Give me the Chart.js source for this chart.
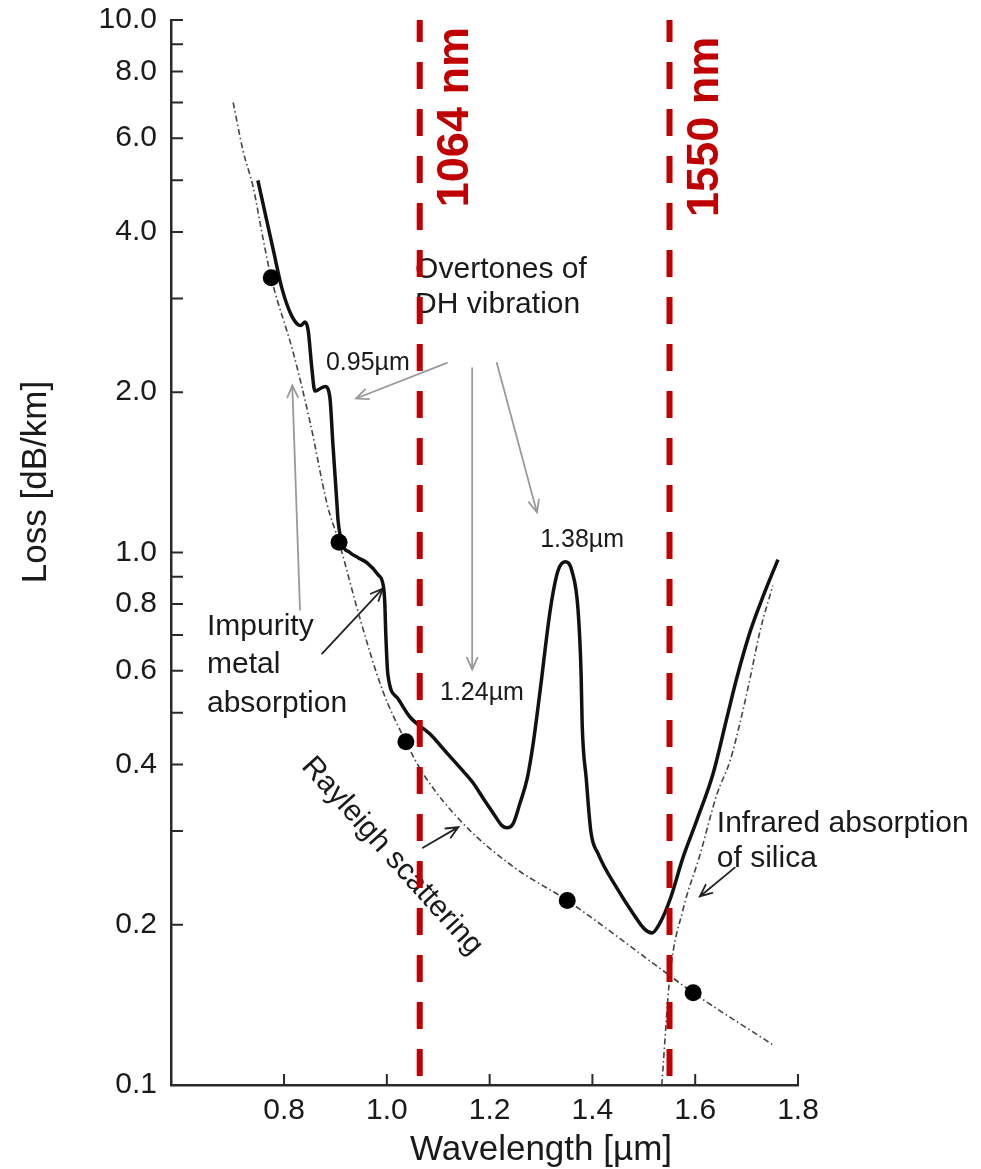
<!DOCTYPE html>
<html><head><meta charset="utf-8">
<script src="https://cdn.jsdelivr.net/npm/chart.js@4.4.1/dist/chart.umd.min.js"></script>
<style>html,body{margin:0;padding:0;background:#fff;}canvas{display:block;}</style>
</head><body>
<canvas id="chart" width="981" height="1169"></canvas>
<script>
// ---------- data ----------
const lossWavelength = [0.749,0.779,0.796,0.812,0.825,0.833,0.841,0.847,0.854,0.860,0.870,0.880,0.889,0.895,0.903,0.905,0.913,0.928,0.944,0.961,0.983,0.993,0.996,0.998,1.002,1.020,1.045,1.084,1.117,1.148,1.168,1.187,1.207,1.224,1.234,1.246,1.259,1.273,1.284,1.298,1.318,1.333,1.347,1.360,1.372,1.378,1.380,1.388,1.397,1.411,1.448,1.479,1.502,1.516,1.532,1.551,1.576,1.603,1.635,1.662,1.681,1.707,1.732,1.761];
const lossValues = [5.0,3.70,3.13,2.82,2.69,2.67,2.71,2.61,2.22,2.01,2.03,2.05,1.96,1.60,1.23,1.15,1.04,1.00,0.978,0.957,0.908,0.867,0.804,0.70,0.590,0.534,0.491,0.456,0.420,0.389,0.369,0.346,0.324,0.307,0.304,0.310,0.338,0.376,0.433,0.548,0.781,0.924,0.961,0.924,0.781,0.590,0.478,0.376,0.299,0.272,0.234,0.210,0.196,0.193,0.202,0.223,0.267,0.314,0.385,0.491,0.582,0.711,0.827,0.970];
const rayleighWavelength = [0.701,0.720,0.740,0.759,0.775,0.818,0.851,0.884,0.907,0.948,0.991,1.037,1.070,1.148,1.246,1.351,1.541,1.596,1.751];
const rayleighValues = [7.0,5.69,4.85,3.89,3.28,2.37,1.75,1.23,1.045,0.750,0.553,0.441,0.385,0.310,0.257,0.222,0.163,0.149,0.119];
const infraredWavelength = [1.535,1.551,1.576,1.609,1.642,1.668,1.687,1.707,1.726,1.751];
const infraredValues = [0.1,0.161,0.213,0.270,0.351,0.407,0.478,0.582,0.711,0.867];
const markerWavelength = [0.775,0.907,1.037,1.351,1.596];
const markerValues = [3.28,1.045,0.441,0.222,0.149];
const laserWavelengths = [1.064,1.55];
const laserLabels = ['1064 nm','1550 nm'];
const xTickValues = [0.8,1.0,1.2,1.4,1.6,1.8];
const xTickLabels = ['0.8','1.0','1.2','1.4','1.6','1.8'];
const yTickValues = [0.1,0.2,0.3,0.4,0.5,0.6,0.7,0.8,0.9,1,2,3,4,5,6,7,8,9,10];
const yTickLabels = ['0.1','0.2','','0.4','','0.6','','0.8','','1.0','2.0','','4.0','','6.0','','8.0','','10.0'];
const xAxisTitle = 'Wavelength [µm]';
const yAxisTitle = 'Loss [dB/km]';

// ---------- presentation ----------
const FONT = '"Liberation Sans", Arial, Helvetica, sans-serif';
const RED = '#c00000';
const pts = (xs, ys) => xs.map((x, i) => ({x, y: ys[i]}));

const annotationTexts = [
  {lines:['Overtones of','DH vibration'], x:1.055, y:3.40, size:30, align:'left', gap:35},
  {lines:['0.95µm'], x:0.963, y:2.27, size:25, align:'center'},
  {lines:['1.38µm'], x:1.380, y:1.056, size:25, align:'center'},
  {lines:['1.24µm'], x:1.185, y:0.545, size:25, align:'center'},
  {lines:['Impurity','metal','absorption'], x:0.650, y:0.726, size:30, align:'left', gap:38.5},
  {lines:['Rayleigh scattering'], x:1.010, y:0.269, size:30, align:'center', rotate:48},
  {lines:['Infrared absorption','of silica'], x:1.642, y:0.31, size:30, align:'left', gap:35}
];
const laserLabelPos = [{y:6.57, dx:36}, {y:6.30, dx:36}];
const grayArrows = [
  {from:[1.117,2.27], to:[0.940,1.946]},
  {from:[1.166,2.22], to:[1.166,0.603]},
  {from:[1.214,2.27], to:[1.292,1.19]},
  {from:[0.831,0.781], to:[0.816,2.06]}
];
const blackArrows = [
  {from:[0.874,0.646], to:[0.992,0.855]},
  {from:[1.070,0.279], to:[1.139,0.305]},
  {from:[1.677,0.256], to:[1.609,0.226]}
];

function drawArrow(ctx, a, xs, ys, color, width) {
  const x1 = xs.getPixelForValue(a.from[0]), y1 = ys.getPixelForValue(a.from[1]);
  const x2 = xs.getPixelForValue(a.to[0]), y2 = ys.getPixelForValue(a.to[1]);
  const ang = Math.atan2(y2 - y1, x2 - x1), L = 13, sp = 0.42;
  ctx.save();
  ctx.strokeStyle = color; ctx.lineWidth = width; ctx.lineCap = 'round';
  ctx.beginPath();
  ctx.moveTo(x1, y1); ctx.lineTo(x2, y2);
  ctx.moveTo(x2 - L * Math.cos(ang - sp), y2 - L * Math.sin(ang - sp));
  ctx.lineTo(x2, y2);
  ctx.lineTo(x2 - L * Math.cos(ang + sp), y2 - L * Math.sin(ang + sp));
  ctx.stroke();
  ctx.restore();
}

const overlay = {
  id: 'overlay',
  beforeDatasetsDraw(chart) {
    const ctx = chart.ctx, xs = chart.scales.x, ys = chart.scales.y;
    annotationTexts.forEach(t => {
      ctx.save();
      ctx.translate(xs.getPixelForValue(t.x), ys.getPixelForValue(t.y));
      if (t.rotate) ctx.rotate(t.rotate * Math.PI / 180);
      ctx.font = `${t.size}px ${FONT}`;
      ctx.fillStyle = '#1a1a1a';
      ctx.textAlign = t.align; ctx.textBaseline = 'middle';
      t.lines.forEach((s, i) => ctx.fillText(s, 0, i * (t.gap || 0)));
      ctx.restore();
    });
    grayArrows.forEach(a => drawArrow(ctx, a, xs, ys, '#9a9a9a', 1.8));
    blackArrows.forEach(a => drawArrow(ctx, a, xs, ys, '#222', 1.8));
  },
  afterDraw(chart) {
    const ctx = chart.ctx, xs = chart.scales.x, ys = chart.scales.y, ca = chart.chartArea;
    ctx.save();
    ctx.strokeStyle = '#2a2a2a'; ctx.lineWidth = 2;
    ctx.beginPath();
    ys.ticks.forEach(t => { const y = ys.getPixelForValue(t.value); ctx.moveTo(ca.left, y); ctx.lineTo(ca.left + 12, y); });
    xs.ticks.forEach(t => { const x = xs.getPixelForValue(t.value); ctx.moveTo(x, ca.bottom); ctx.lineTo(x, ca.bottom - 11); });
    ctx.stroke();
    // laser wavelength labels
    laserWavelengths.forEach((w, i) => {
      ctx.save();
      ctx.translate(xs.getPixelForValue(w) + laserLabelPos[i].dx, ys.getPixelForValue(laserLabelPos[i].y));
      ctx.rotate(-Math.PI / 2);
      ctx.font = `bold 45px ${FONT}`;
      ctx.fillStyle = RED; ctx.textAlign = 'center'; ctx.textBaseline = 'middle';
      ctx.fillText(laserLabels[i], 0, 0);
      ctx.restore();
    });
    // axis titles
    ctx.font = `35px ${FONT}`; ctx.fillStyle = '#1a1a1a';
    ctx.textAlign = 'center'; ctx.textBaseline = 'middle';
    ctx.fillText(xAxisTitle, 541, 1150);
    ctx.translate(36, 482); ctx.rotate(-Math.PI / 2);
    ctx.fillText(yAxisTitle, 0, 0);
    ctx.restore();
  }
};

const laserSets = laserWavelengths.map((w, i) => ({
  label: laserLabels[i],
  data: [{x: w, y: 10}, {x: w, y: 0.1}],
  showLine: true, borderColor: RED, borderWidth: 6,
  borderDash: [27, 20], borderDashOffset: 5, pointRadius: 0, borderCapStyle: 'butt'
}));

new Chart(document.getElementById('chart'), {
  type: 'scatter',
  data: {
    datasets: [
      ...laserSets,
      {label: 'Measured points', data: pts(markerWavelength, markerValues), pointRadius: 8.5,
       backgroundColor: '#000', borderWidth: 0, showLine: false},
      {label: 'Loss', data: pts(lossWavelength, lossValues), showLine: true, pointRadius: 0,
       borderColor: '#111', borderWidth: 3.5, cubicInterpolationMode: 'monotone'},
      {label: 'Rayleigh scattering', data: pts(rayleighWavelength, rayleighValues), showLine: true, pointRadius: 0,
       borderColor: '#444', borderWidth: 1.6, borderDash: [6, 3, 1.5, 3], cubicInterpolationMode: 'monotone'},
      {label: 'Infrared absorption', data: pts(infraredWavelength, infraredValues), showLine: true, pointRadius: 0,
       borderColor: '#444', borderWidth: 1.6, borderDash: [6, 3, 1.5, 3], cubicInterpolationMode: 'monotone'}
    ]
  },
  options: {
    responsive: false, animation: false, devicePixelRatio: 1, events: [],
    layout: {padding: {top: 20, right: 183, bottom: 0, left: 0}},
    plugins: {legend: {display: false}, tooltip: {enabled: false}},
    scales: {
      x: {
        type: 'linear', min: 0.58, max: 1.8,
        afterBuildTicks: s => { s.ticks = xTickValues.map(v => ({value: v})); },
        afterFit: s => { s.height = 84; s.paddingLeft = 0; s.paddingRight = 0; },
        ticks: {callback: (v, i) => xTickLabels[i], autoSkip: false, maxRotation: 0, padding: 8,
                color: '#1a1a1a', font: {family: FONT, size: 30}},
        grid: {display: false, drawTicks: false},
        border: {display: true, color: '#2a2a2a', width: 2.5}
      },
      y: {
        type: 'logarithmic', min: 0.1, max: 10,
        afterBuildTicks: s => { s.ticks = yTickValues.map(v => ({value: v})); },
        afterFit: s => { s.width = 171; s.paddingTop = 0; s.paddingBottom = 0; },
        ticks: {callback: (v, i) => yTickLabels[i], autoSkip: false, padding: 14,
                color: '#1a1a1a', font: {family: FONT, size: 30}},
        grid: {display: false, drawTicks: false},
        border: {display: true, color: '#2a2a2a', width: 2.5}
      }
    }
  },
  plugins: [overlay]
});
</script>
</body></html>
